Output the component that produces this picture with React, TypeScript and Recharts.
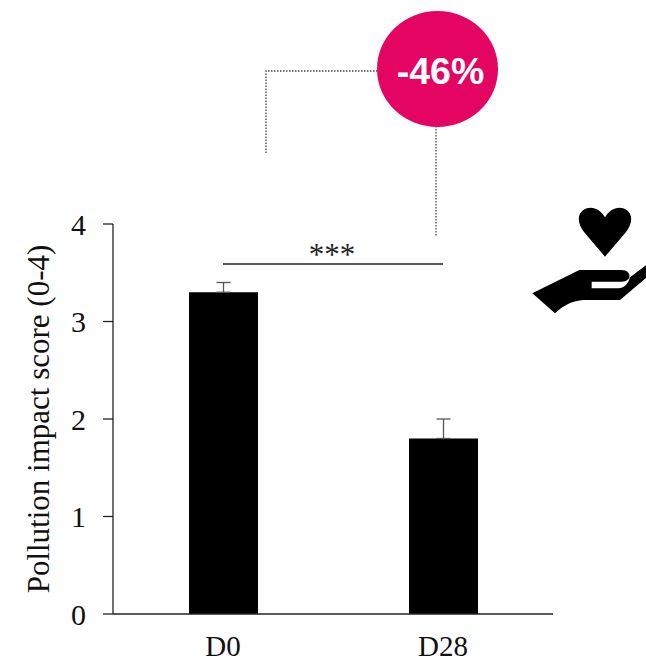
import React from 'react';
import { BarChart, Bar, XAxis, YAxis, ErrorBar, ReferenceLine } from 'recharts';

const categories = ['D0', 'D28'];
const scores = [3.3, 1.8];
const errors = [0.1, 0.2];
const yTicks = [0, 1, 2, 3, 4];
const yTitle = 'Pollution impact score (0-4)';
const significance = '***';
const changeLabel = '-46%';
const sigLevel = 3.59;

const rows = categories.map((name, i) => ({ name, score: scores[i], err: [0, errors[i]] }));
const serif = '"Liberation Serif", serif';

export default function App() {
  return (
    <div style={{ position: 'absolute', left: 0, top: 0, width: 646, height: 662, background: '#fff', overflow: 'hidden' }}>
      <BarChart
        width={646}
        height={662}
        data={rows}
        margin={{ top: 224, right: 93, bottom: 0, left: 53 }}
        barCategoryGap={0}
        barSize={69}
      >
        <XAxis
          dataKey="name"
          axisLine={{ stroke: '#222', strokeWidth: 1.3 }}
          tickLine={false}
          tickMargin={15}
          height={48}
          tick={{ fontFamily: serif, fontSize: 29, fill: '#111' }}
        />
        <YAxis
          width={60}
          domain={[0, 4]}
          ticks={yTicks}
          interval={0}
          axisLine={{ stroke: '#222', strokeWidth: 1.3 }}
          tickLine={{ stroke: '#222', strokeWidth: 1.3 }}
          tickSize={10}
          tickMargin={17}
          tick={{ fontFamily: serif, fontSize: 30, fill: '#111' }}
          label={{
            value: yTitle,
            angle: -90,
            position: 'center',
            dx: -45,
            style: { fontFamily: serif, fontSize: 31, fill: '#111' },
          }}
        />
        <Bar dataKey="score" fill="#000" isAnimationActive={false}>
          <ErrorBar dataKey="err" direction="y" width={7} stroke="#555" strokeWidth={1.3} isAnimationActive={false} />
        </Bar>
        <ReferenceLine
          segment={[{ x: categories[0], y: sigLevel }, { x: categories[1], y: sigLevel }]}
          stroke="#222"
          strokeWidth={1.3}
        />
      </BarChart>
      <svg width={646} height={662} style={{ position: 'absolute', left: 0, top: 0, pointerEvents: 'none' }}>
        <text x={332} y={265} textAnchor="middle" fontFamily={serif} fontSize={31} fill="#222">{significance}</text>
        <path d="M266 153V71H380" fill="none" stroke="#444" strokeWidth={1.3} strokeDasharray="1.5 1.5" />
        <path d="M436 126V236" fill="none" stroke="#444" strokeWidth={1.3} strokeDasharray="1.5 1.5" />
        <ellipse cx={437.5} cy={69} rx={60.5} ry={58} fill="#e30561" />
        <text x={440.5} y={84} textAnchor="middle" fontFamily='"Liberation Sans", Arial, sans-serif' fontWeight={700} fontSize={37.5} fill="#fff">{changeLabel}</text>
        <g transform="translate(520 190) scale(0.3333)" fill="#000">
          <path d="M255 200 L195 130 C170 100 172 72 190 60 C212 45 240 55 255 82 C270 55 298 45 320 60 C338 72 340 100 315 130 Z" />
          <path d="M37 310 L178 240 H305 C335 240 338 275 305 275 H215 V295 H295 C315 295 325 280 330 262 L378 226 V264 L300 330 H190 C160 332 130 345 105 370 Z" />
        </g>
      </svg>
    </div>
  );
}
